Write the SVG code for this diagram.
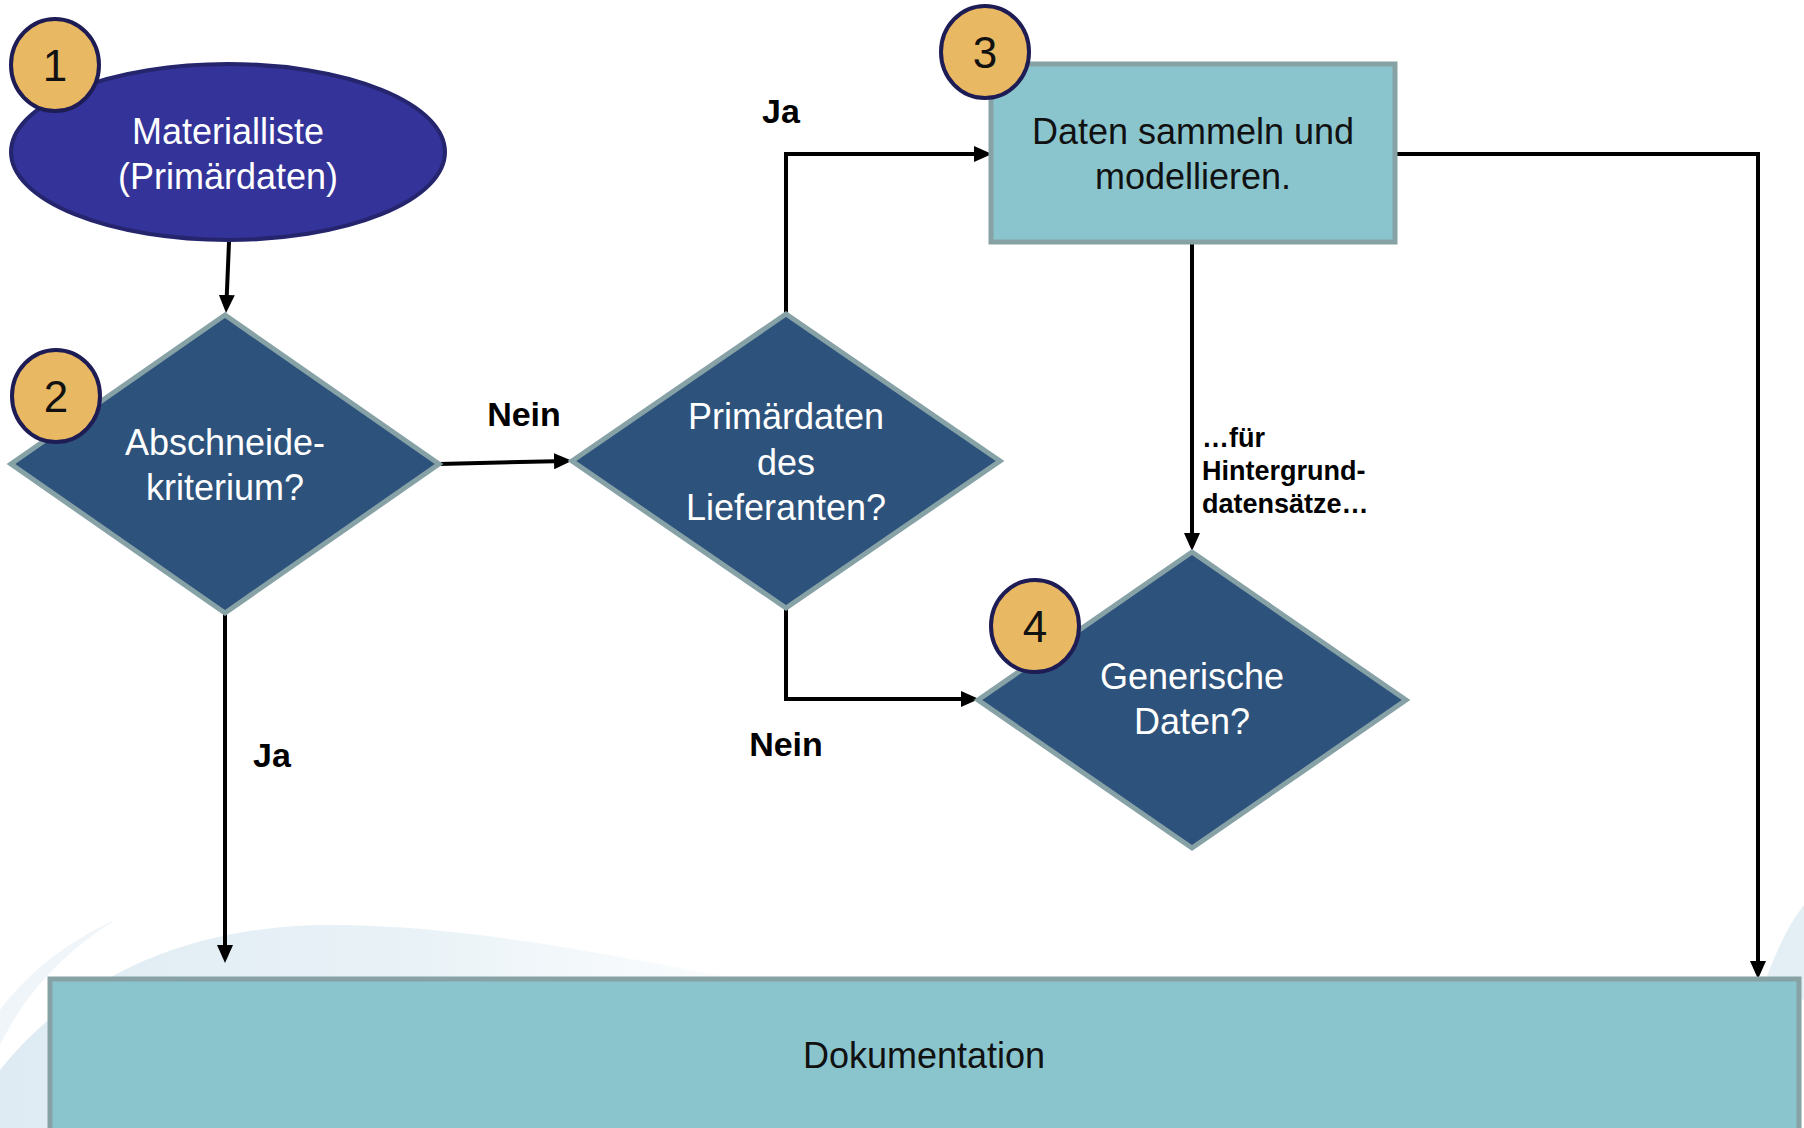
<svg xmlns="http://www.w3.org/2000/svg" width="1804" height="1128" viewBox="0 0 1804 1128">
<style>
.lbl{font-family:"Liberation Sans",Arial,sans-serif;font-size:36px;text-anchor:middle}
.w{fill:#ffffff}
.k{fill:#111111}
.b{font-family:"Liberation Sans",Arial,sans-serif;font-weight:bold;fill:#000000}
.num{font-family:"Liberation Sans",Arial,sans-serif;font-size:44px;text-anchor:middle;fill:#111111}
.dia{fill:#2d527c;stroke:#87a2a6;stroke-width:5;stroke-linejoin:miter}
.box{fill:#8ac5ce;stroke:#87a2a5;stroke-width:5}
.badge{fill:#e9b862;stroke:#1e1c55;stroke-width:4}
.con{fill:none;stroke:#000000;stroke-width:4;marker-end:url(#ah)}
.con0{fill:none;stroke:#000000;stroke-width:4}
</style>
<defs>
<marker id="ah" viewBox="0 0 18 16" refX="12" refY="8" markerWidth="18" markerHeight="16" markerUnits="userSpaceOnUse" orient="auto">
<path d="M0,0 L18,8 L0,16 z" fill="#000000"/>
</marker>
<linearGradient id="sw" x1="0" y1="0" x2="1" y2="0">
<stop offset="0" stop-color="#d6e6f0" stop-opacity="0.8"/>
<stop offset="0.5" stop-color="#dfecf3" stop-opacity="0.7"/>
<stop offset="1" stop-color="#f0f6f9" stop-opacity="0.1"/>
</linearGradient>
</defs>
<rect x="0" y="0" width="1804" height="1128" fill="#ffffff"/>
<g id="background">
<path d="M0,1070 C80,970 200,925 330,925 C490,925 650,965 830,995 L830,1128 L0,1128 z" fill="url(#sw)"/>
<path d="M0,1010 C30,970 70,940 115,920 C60,955 25,995 0,1045 z" fill="#e8f1f6" opacity="0.7"/>
<path d="M1762,990 C1776,950 1790,922 1804,905 L1804,1000 z" fill="#dcebf2" opacity="0.8"/>
</g>
<g id="connectors">
<path class="con" d="M229,242 L226.3,307"/>
<path class="con" d="M439,464 L566,461"/>
<path class="con" d="M786,314 L786,154 L986,154"/>
<path class="con0" d="M1395,154 L1758,154 L1758,960"/>
<path class="con" d="M1758,960 L1758,973"/>
<path class="con" d="M1192,242 L1192,545"/>
<path class="con" d="M786,608 L786,699 L973,699"/>
<path class="con" d="M225,613 L225,957"/>
<text class="b" x="524" y="426" font-size="34" text-anchor="middle">Nein</text>
<text class="b" x="781" y="123" font-size="34" text-anchor="middle">Ja</text>
<text class="b" x="786" y="756" font-size="34" text-anchor="middle">Nein</text>
<text class="b" x="272" y="767" font-size="34" text-anchor="middle">Ja</text>
<text class="b" x="1202" y="447" font-size="27">…für</text>
<text class="b" x="1202" y="480" font-size="27">Hintergrund-</text>
<text class="b" x="1202" y="513" font-size="27">datensätze…</text>
</g>
<g id="node1">
<ellipse cx="228" cy="152" rx="217" ry="88" fill="#333399" stroke="#25256e" stroke-width="4"/>
<text class="lbl w" x="228" y="144">Materialliste</text>
<text class="lbl w" x="228" y="189">(Primärdaten)</text>
</g>
<g id="node2">
<polygon class="dia" points="225,315 439,464 225,613 11,464"/>
<text class="lbl w" x="225" y="455">Abschneide-</text>
<text class="lbl w" x="225" y="500">kriterium?</text>
</g>
<g id="node3">
<polygon class="dia" points="786,314 1000,461 786,608 572,461"/>
<text class="lbl w" x="786" y="429">Primärdaten</text>
<text class="lbl w" x="786" y="475">des</text>
<text class="lbl w" x="786" y="520">Lieferanten?</text>
</g>
<g id="node4">
<rect class="box" x="991" y="64" width="404" height="178"/>
<text class="lbl k" x="1193" y="144">Daten sammeln und</text>
<text class="lbl k" x="1193" y="189">modellieren.</text>
</g>
<g id="node5">
<polygon class="dia" points="1192,552 1406,700 1192,848 978,700"/>
<text class="lbl w" x="1192" y="689">Generische</text>
<text class="lbl w" x="1192" y="734">Daten?</text>
</g>
<g id="node6">
<rect class="box" x="50" y="979" width="1749" height="160"/>
<text class="lbl k" x="924" y="1068">Dokumentation</text>
</g>
<g id="badge1">
<ellipse class="badge" cx="55" cy="65" rx="44" ry="46"/>
<text class="num" x="55" y="81">1</text>
</g>
<g id="badge2">
<ellipse class="badge" cx="56" cy="396" rx="44" ry="46"/>
<text class="num" x="56" y="412">2</text>
</g>
<g id="badge3">
<ellipse class="badge" cx="985" cy="52" rx="44" ry="46"/>
<text class="num" x="985" y="68">3</text>
</g>
<g id="badge4">
<ellipse class="badge" cx="1035" cy="626" rx="44" ry="46"/>
<text class="num" x="1035" y="642">4</text>
</g>
</svg>
